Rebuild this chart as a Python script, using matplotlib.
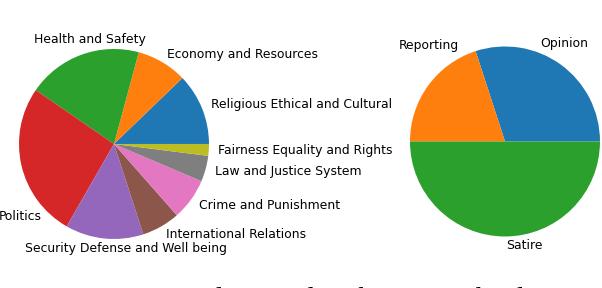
import matplotlib.pyplot as plt

topics = ['Religious Ethical and Cultural', 'Economy and Resources',
          'Health and Safety', 'Politics', 'Security Defense and Well being',
          'International Relations', 'Crime and Punishment',
          'Law and Justice System', 'Fairness Equality and Rights']
topic_share = [12.2, 8.6, 19.6, 26.3, 13.3, 6.5, 7.1, 4.4, 2.0]

genres = ['Opinion', 'Reporting', 'Satire']
genre_share = [30, 20, 50]

caption = 'Figure 3: Topic and genre distribution in the dataset.'

fig = plt.figure(figsize=(6.02, 2.88), dpi=100)
ax1 = fig.add_axes([-0.0079, 0.0877, 0.3945, 0.8247])
ax2 = fig.add_axes([0.6416, 0.0964, 0.3945, 0.8247])

_, txt1 = ax1.pie(topic_share, labels=topics, textprops={'fontsize': 8.9})
_, txt2 = ax2.pie(genre_share, labels=genres, textprops={'fontsize': 8.9})

# a few labels sit away from the default spot in the original
moved = {
    'Health and Safety': (-0.253, 1.105, 'center'),
    'Politics': (-0.761, -0.765, 'right'),
    'Security Defense and Well being': (0.121, -1.098, 'center'),
    'Opinion': (0.376, 1.034, 'left'),
    'Reporting': (-0.481, 1.008, 'right'),
    'Satire': (0.007, -1.097, 'left'),
}
for t in list(txt1) + list(txt2):
    if t.get_text() in moved:
        x, y, ha = moved[t.get_text()]
        t.set_position((x, y))
        t.set_ha(ha)

# caption of the page, cut by the crop
fig.text(0.0, -0.0635, caption, fontsize=20.5, family='Liberation Serif',
         va='baseline')

fig.savefig('out.png', dpi=100)
